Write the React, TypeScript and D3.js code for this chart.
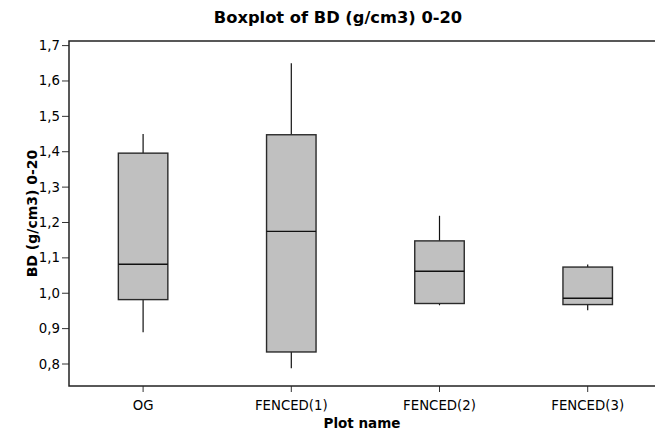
import React from "react";
import * as d3 from "d3";

const categories = ["OG", "FENCED(1)", "FENCED(2)", "FENCED(3)"];
const whiskerLow = [0.89, 0.788, 0.966, 0.952];
const q1 = [0.982, 0.834, 0.971, 0.968];
const median = [1.082, 1.175, 1.062, 0.986];
const q3 = [1.396, 1.448, 1.148, 1.074];
const whiskerHigh = [1.45, 1.65, 1.219, 1.081];
const yTicks = [0.8, 0.9, 1.0, 1.1, 1.2, 1.3, 1.4, 1.5, 1.6, 1.7];

const W = 655;
const H = 432;
const left = 69;
const right = 661.8;
const top = 41;
const bottom = 386;
const FONT = "'DejaVu Sans', sans-serif";

export default function App() {
  const x = d3.scaleBand<string>().domain(categories).range([left, right]).paddingInner(0).paddingOuter(0);
  const y = d3.scaleLinear().domain([0.8, 1.7]).range([364, 45.6]);
  const bw = x.bandwidth() * 0.334;
  const fmt = (v: number) => d3.format(".1f")(v).replace(".", ",");

  return (
    <svg width={W} height={H} style={{ position: "absolute", left: 0, top: 0, background: "#fff" }}>
      <rect x={0} y={0} width={W} height={H} fill="#fff" />
      <text x={338} y={22.5} textAnchor="middle" fontFamily={FONT} fontWeight="bold" fontSize={16.3} fill="#000">
        Boxplot of BD (g/cm3) 0-20
      </text>
      {categories.map((c, i) => {
        const cx = (x(c) as number) + x.bandwidth() / 2;
        return (
          <g key={c}>
            <line x1={cx} x2={cx} y1={y(whiskerHigh[i])} y2={y(q3[i])} stroke="#111" strokeWidth={1.2} />
            <line x1={cx} x2={cx} y1={y(q1[i])} y2={y(whiskerLow[i])} stroke="#111" strokeWidth={1.2} />
            <rect
              x={cx - bw / 2}
              y={y(q3[i])}
              width={bw}
              height={y(q1[i]) - y(q3[i])}
              fill="#c0c0c0"
              stroke="#2a2a2a"
              strokeWidth={1.4}
            />
            <line x1={cx - bw / 2} x2={cx + bw / 2} y1={y(median[i])} y2={y(median[i])} stroke="#111" strokeWidth={1.4} />
            <line x1={cx} x2={cx} y1={bottom} y2={bottom + 6} stroke="#333" strokeWidth={1} />
            <text x={cx} y={410} textAnchor="middle" fontFamily={FONT} fontSize={13.3} fill="#000">
              {c}
            </text>
          </g>
        );
      })}
      {yTicks.map((t) => (
        <g key={t}>
          <line x1={left - 7} x2={left} y1={y(t)} y2={y(t)} stroke="#333" strokeWidth={1} />
          <text x={left - 9} y={y(t) + 4.5} textAnchor="end" fontFamily={FONT} fontSize={13.3} fill="#000">
            {fmt(t)}
          </text>
        </g>
      ))}
      <rect x={left} y={top} width={right - left} height={bottom - top} fill="none" stroke="#222" strokeWidth={1.5} />
      <text x={362} y={428} textAnchor="middle" fontFamily={FONT} fontWeight="bold" fontSize={13.5} fill="#000">
        Plot name
      </text>
      <text
        transform={`translate(37, ${(top + bottom) / 2}) rotate(-90)`}
        textAnchor="middle"
        fontFamily={FONT}
        fontWeight="bold"
        fontSize={14}
        fill="#000"
      >
        BD (g/cm3) 0-20
      </text>
    </svg>
  );
}
